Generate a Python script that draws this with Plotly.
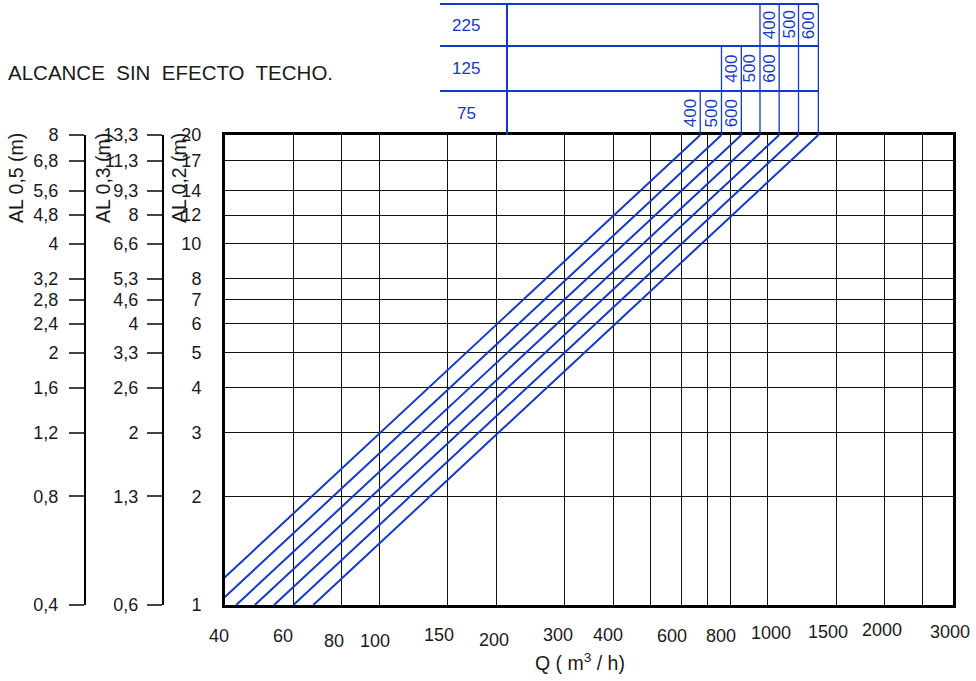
import math
import plotly.graph_objects as go

# ---------------- data ----------------
# Q (m3/h) at which each throw line reaches AL0,2 = 20 m (top of the chart)
q_at_top = [670, 760, 855, 955, 1070, 1200, 1350]
al_bottom, al_top = 1, 20

x_tickvals = [40, 60, 80, 100, 150, 200, 300, 400, 600, 800, 1000, 1500, 2000, 3000]
x_ticktext = ["40", "60", "80", "100", "150", "200", "300", "400", "600", "800", "1000", "1500", "2000", "3000"]
x_minor_grid = [500, 700, 2500]

y_tickvals = [1, 2, 3, 4, 5, 6, 7, 8, 10, 12, 14, 17, 20]
al02_text = ["1", "2", "3", "4", "5", "6", "7", "8", "10", "12", "14", "17", "20"]
al03_text = ["0,6", "1,3", "2", "2,6", "3,3", "4", "4,6", "5,3", "6,6", "8", "9,3", "11,3", "13,3"]
al05_text = ["0,4", "0,8", "1,2", "1,6", "2", "2,4", "2,8", "3,2", "4", "4,8", "5,6", "6,8", "8"]

# top table: diffuser sizes (rows, top to bottom), index of first line in each row, lengths
row_sizes = ["225", "125", "75"]
row_first_line = [4, 2, 0]
row_lengths = ["400", "500", "600"]

# ---------------- style ----------------
# small hand-lettering offsets (px) of the Q labels, as in the original drawing
x_label_dx = [-6, -10, -8, -5, -9, -2, -7, -5, -10, -9, 3, -8, -3, -3]
x_label_dy = [1, 1, 6, 6, 0, 5, 0, 0, 1, 1, -2, -3, -5, -3]

W, H = 976, 681
ML, MR, MT, MB = 0, 23, 135, 76
PW, PH = W - ML - MR, H - MT - MB
plot_left_px = 225
dom0 = plot_left_px / PW
BLUE = "#1438cc"
TXT = "#1a1a1a"
FONT = "Liberation Sans, Arial, sans-serif"


def pxx(p):
    return (p - ML) / PW


def pxy(p):
    return (MT + PH - p) / PH


xmin, xmax = 40, 3000


def xpaper(q):
    return dom0 + (1 - dom0) * (math.log10(q) - math.log10(xmin)) / (math.log10(xmax) - math.log10(xmin))


fig = go.Figure()

for q in q_at_top:
    fig.add_trace(go.Scatter(
        x=[q * al_bottom / al_top, q], y=[al_bottom, al_top],
        mode="lines", line=dict(color=BLUE, width=2),
        showlegend=False, hoverinfo="skip"))

# invisible traces to host the extra scales
for ax in ["y2", "y3"]:
    fig.add_trace(go.Scatter(x=[100], y=[2], yaxis=ax, mode="markers",
                             marker=dict(opacity=0, size=1), showlegend=False, hoverinfo="skip"))

yrange = [0, math.log10(20)]
TICKFONT = dict(size=18, color=TXT, family=FONT)
common_y = dict(type="log", range=yrange, tickvals=y_tickvals, showgrid=False,
                zeroline=False, tickfont=TICKFONT, automargin=False)

fig.update_layout(
    width=W, height=H,
    margin=dict(l=ML, r=MR, t=MT, b=MB, autoexpand=False),
    paper_bgcolor="white", plot_bgcolor="white",
    font=dict(family=FONT, color=TXT),
    xaxis=dict(
        type="log", range=[math.log10(xmin), math.log10(xmax)], domain=[dom0, 1],
        tickvals=x_tickvals, ticktext=x_ticktext, ticks="", showticklabels=False,
        automargin=False, showgrid=True, gridcolor="#111", gridwidth=1,
        minor=dict(tickvals=x_minor_grid, showgrid=True, gridcolor="#111", gridwidth=1, ticks=""),
        showline=True, linecolor="black", linewidth=3, mirror=True, zeroline=False),
    yaxis=dict(common_y, ticktext=al02_text, ticks="", showgrid=True,
               gridcolor="#111", gridwidth=1, showline=True, linecolor="black",
               linewidth=3, mirror=True, ticklabelstandoff=17),
    yaxis2=dict(common_y, ticktext=al03_text, overlaying="y", anchor="free",
                position=pxx(163), side="left", ticks="outside", ticklen=15,
                tickcolor="#444", tickwidth=1.5, showline=True, linecolor="black", linewidth=2,
                ticklabelstandoff=5),
    yaxis3=dict(common_y, ticktext=al05_text, overlaying="y", anchor="free",
                position=pxx(85), side="left", ticks="outside", ticklen=15,
                tickcolor="#444", tickwidth=1.5, showline=True, linecolor="black", linewidth=2,
                ticklabelstandoff=7),
)

ann = []
# Q tick labels, placed on the x scale
for v, t, dx, dy in zip(x_tickvals, x_ticktext, x_label_dx, x_label_dy):
    ann.append(dict(text=t, xref="x", yref="paper", x=math.log10(v), y=pxy(635),
                    xshift=dx, yshift=-dy, xanchor="center", yanchor="middle", showarrow=False,
                    font=TICKFONT))
# title
ann.append(dict(text="ALCANCE&nbsp; SIN&nbsp; EFECTO&nbsp; TECHO.", xref="paper", yref="paper",
                x=pxx(6), y=pxy(73), xanchor="left", yanchor="middle", showarrow=False,
                font=dict(size=20.5, color=TXT, family=FONT)))
# axis titles
for label, xp in [("AL 0,5 (m)", 16), ("AL 0,3 (m)", 103), ("AL 0,2 (m)", 179)]:
    ann.append(dict(text=label, xref="paper", yref="paper", x=pxx(xp), y=pxy(178),
                    xanchor="center", yanchor="middle", textangle=-90, showarrow=False,
                    font=dict(size=19.5, color=TXT, family=FONT)))
ann.append(dict(text="Q ( m<sup>3</sup> / h)", xref="paper", yref="paper", x=pxx(580), y=pxy(662),
                xanchor="center", yanchor="middle", showarrow=False,
                font=dict(size=19.5, color=TXT, family=FONT)))

shapes = []
table_left, table_col = 440, 507
row_edges = [4, 46, 91, 135]
x_right = xpaper(q_at_top[-1])
for yy in row_edges[:3]:
    shapes.append(dict(type="line", xref="paper", yref="paper", x0=pxx(table_left), x1=x_right,
                       y0=pxy(yy), y1=pxy(yy), line=dict(color=BLUE, width=2)))
shapes.append(dict(type="line", xref="paper", yref="paper", x0=pxx(table_col), x1=pxx(table_col),
                   y0=pxy(row_edges[0]), y1=pxy(row_edges[3]), line=dict(color=BLUE, width=2)))

for r, (size, first) in enumerate(zip(row_sizes, row_first_line)):
    ytop, ybot = row_edges[r], row_edges[r + 1]
    ymid = (ytop + ybot) / 2
    ann.append(dict(text=size, xref="paper", yref="paper", x=pxx(466), y=pxy(ymid),
                    xanchor="center", yanchor="middle", showarrow=False,
                    font=dict(size=17, color=BLUE, family=FONT)))
    for i in range(max(first - 1, 0), len(q_at_top)):
        shapes.append(dict(type="line", xref="x", yref="paper", x0=q_at_top[i], x1=q_at_top[i],
                           y0=pxy(ybot), y1=pxy(ytop),
                           line=dict(color=BLUE, width=1.3)))
    for k, length in enumerate(row_lengths):
        ann.append(dict(text=length, xref="x", yref="paper", x=math.log10(q_at_top[first + k]),
                        xshift=-10, y=pxy(ymid), xanchor="center", yanchor="middle",
                        textangle=-90, showarrow=False,
                        font=dict(size=17, color=BLUE, family=FONT)))

fig.update_layout(annotations=ann, shapes=shapes)
fig.write_html("out.html", config={"displayModeBar": False},
               post_script="document.body.style.margin='0px';")
